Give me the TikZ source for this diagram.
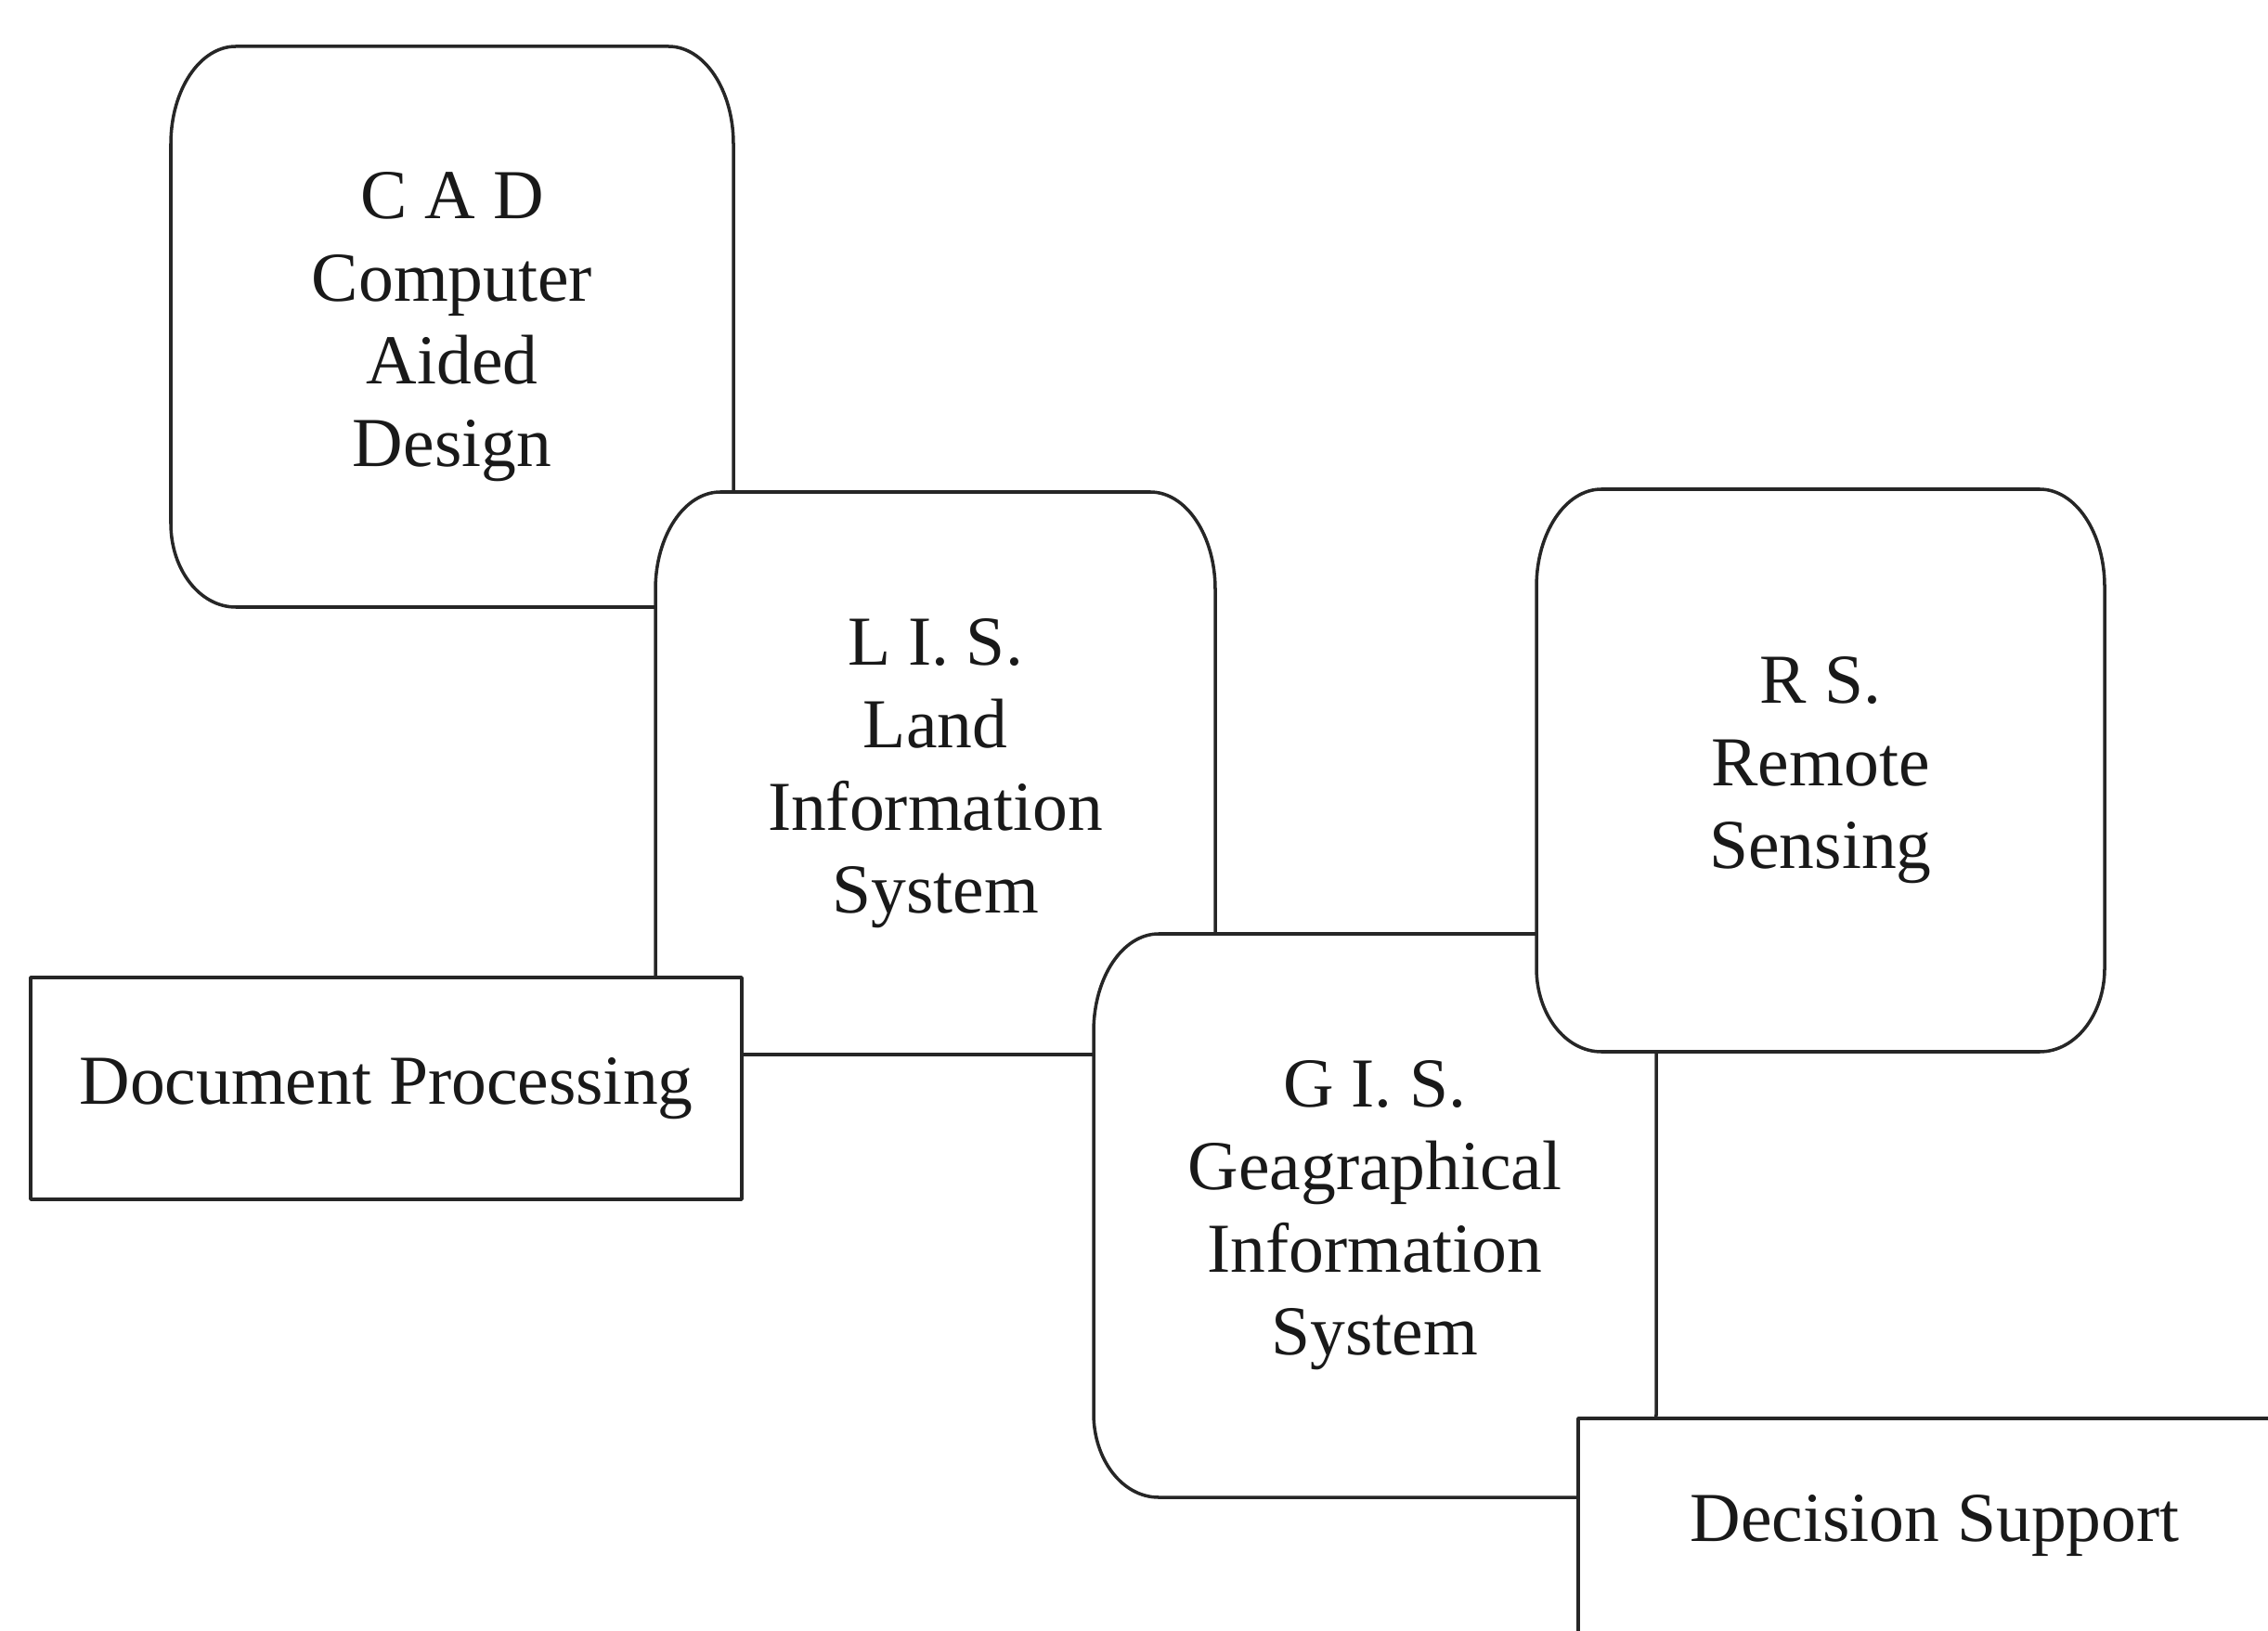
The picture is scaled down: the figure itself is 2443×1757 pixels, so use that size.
\documentclass[tikz,border=0pt]{standalone}
\usepackage{fontspec}
\setmainfont{Liberation Serif}
\usetikzlibrary{calc}

\tikzset{
  edge/.style={draw=black!85, line width=1pt, fill=white, line join=round},
  caption/.style={font=\fontsize{21.5}{25.3}\selectfont, align=center, text=black!90, inner sep=0pt},
}

% Box with elliptical corners, given its north-west and south-east corners
\newcommand\ovalbox[3]{%
  \coordinate (#1-nw) at #2;
  \coordinate (#1-se) at #3;
  \filldraw[edge] let \p1=(#1-nw), \p2=(#1-se) in
    (\x1+7mm,\y1) -- (\x2-7mm,\y1)
    .. controls (\x2-3.13mm,\y1) and (\x2,\y1-4.7mm) .. (\x2,\y1-10.5mm)
    -- (\x2,\y2+9mm)
    .. controls (\x2,\y2+4.03mm) and (\x2-3.13mm,\y2) .. (\x2-7mm,\y2)
    -- (\x1+7mm,\y2)
    .. controls (\x1+3.13mm,\y2) and (\x1,\y2+4.03mm) .. (\x1,\y2+9mm)
    -- (\x1,\y1-10.5mm)
    .. controls (\x1,\y1-4.7mm) and (\x1+3.13mm,\y1) .. (\x1+7mm,\y1) -- cycle;
}

\begin{document}
\begin{tikzpicture}[x=0.1mm,y=-0.1mm]
\useasboundingbox (0,0) rectangle (2443,1757);
\clip (0,0) rectangle (2443,1757);
\fill[white] (0,0) rectangle (2443,1757);

% CAD
\ovalbox{cad}{(184,50)}{(790,654)}
\node[caption] (cad) at ($(cad-nw)!.5!(cad-se)$) {C A D\\Computer\\Aided\\Design};

% LIS
\ovalbox{lis}{(706,530)}{(1309,1136)}
\node[caption] (lis) at ($(lis-nw)!.5!(lis-se)$) {L I. S.\\Land\\Information\\System};

% Document processing
\coordinate (doc-nw) at (33,1053);
\coordinate (doc-se) at (799,1292);
\filldraw[edge] (doc-nw) rectangle (doc-se);
\node[caption] (doc) at ($(doc-nw)!.5!(doc-se)$) {Document\hspace{0.25em}Processing};

% GIS
\ovalbox{gis}{(1178,1006)}{(1784,1613)}
\node[caption] (gis) at ($(gis-nw)!.5!(gis-se)$) {G I. S.\\Geagraphical\\Information\\System};

% RS
\ovalbox{rs}{(1655,527)}{(2267,1133)}
\node[caption] (rs) at ($(rs-nw)!.5!(rs-se)$) {R S.\\Remote\\Sensing};

% Decision support (runs off the page)
\coordinate (ds-nw) at (1700,1528);
\coordinate (ds-se) at (2480,1800);
\filldraw[edge] (ds-nw) rectangle (ds-se);
\node[caption, anchor=west] (ds) at (1820,1644) {Decision Support};
\end{tikzpicture}
\end{document}
